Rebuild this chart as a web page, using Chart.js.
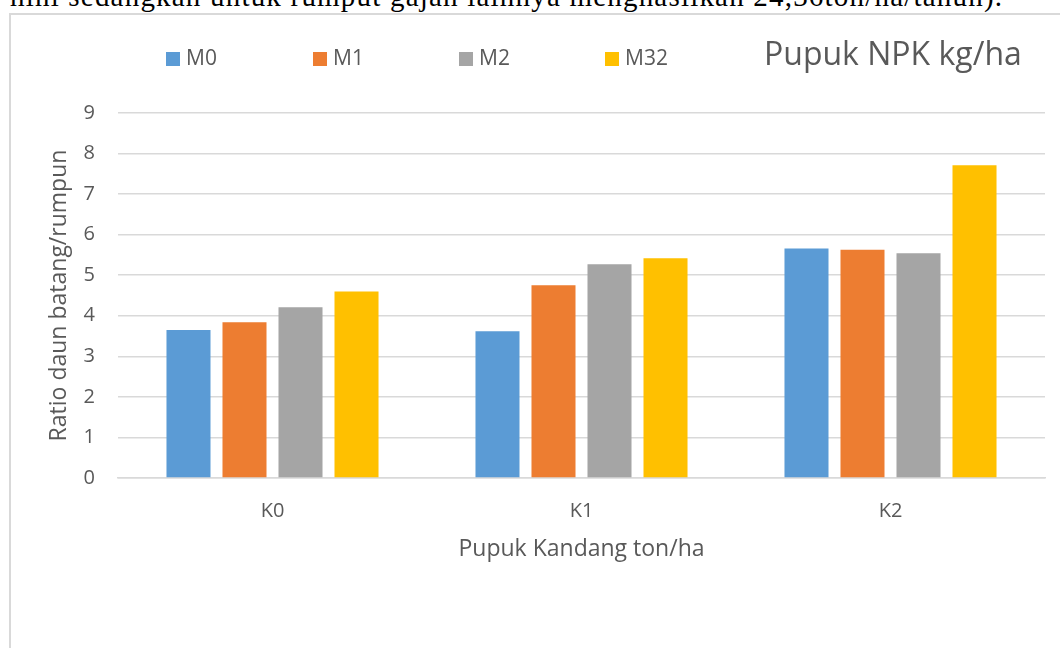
<!DOCTYPE html>
<html>
<head>
<meta charset="utf-8">
<script src="https://cdn.jsdelivr.net/npm/chart.js@4.4.1/dist/chart.umd.min.js"></script>
<style>
  html, body { margin: 0; padding: 0; background: #fff; overflow: hidden; }
  body { width: 1060px; height: 648px; position: relative; }
  #para {
    position: absolute; left: 10px; top: -20px; white-space: nowrap;
    font-family: 'Liberation Serif', serif; font-size: 29px; line-height: 33px;
    letter-spacing: 1.2px; color: #000;
  }
  #box {
    position: absolute; left: 9px; top: 13px; width: 1100px; height: 700px;
    border-left: 2px solid #d9d9d9; border-top: 2px solid #d9d9d9;
  }
  #wrap { position: absolute; left: 0; top: 0; width: 1060px; height: 648px; }
</style>
</head>
<body>
<div id="para">hini sedangkan untuk rumput gajah lainnya menghasilkan 24,36ton/ha/tahun).</div>
<div id="box"></div>
<div id="wrap"><canvas id="myChart"></canvas></div>
<script>
const categories = ['K0', 'K1', 'K2'];
const seriesNames = ['M0', 'M1', 'M2', 'M32'];
const m0 = [3.65, 3.62, 5.66];
const m1 = [3.84, 4.75, 5.63];
const m2 = [4.21, 5.27, 5.54];
const m32 = [4.60, 5.42, 7.71];
const colors = ['#5B9BD5', '#ED7D31', '#A5A5A5', '#FFC000'];

Chart.defaults.font.family = "'Open Sans', sans-serif";
Chart.defaults.color = '#595959';

// legend row + "Pupuk NPK kg/ha" title drawn on the same line, like Excel does
const headerPlugin = {
  id: 'header',
  afterDraw(chart) {
    const ctx = chart.ctx;
    const xs = [166, 313, 459, 605];
    ctx.save();
    ctx.font = "21px 'Open Sans', sans-serif";
    ctx.textBaseline = 'middle';
    ctx.textAlign = 'left';
    chart.data.datasets.forEach((ds, i) => {
      ctx.fillStyle = ds.backgroundColor;
      ctx.fillRect(xs[i], 52, 14, 14);
      ctx.fillStyle = '#595959';
      ctx.fillText(ds.label, xs[i] + 20, 59);
    });
    ctx.font = "32px 'Open Sans', sans-serif";
    ctx.fillText('Pupuk NPK kg/ha', 764, 56);
    ctx.restore();
  }
};

const ctx = document.getElementById('myChart');

const config = {
  type: 'bar',
  data: {
    labels: categories,
    datasets: [m0, m1, m2, m32].map((d, i) => ({
      label: seriesNames[i],
      data: d,
      backgroundColor: colors[i],
      categoryPercentage: 0.725,
      barPercentage: 0.786,
    })),
  },
  options: {
    responsive: false,
    animation: false,
    layout: {
      padding: { left: 42, right: 15, top: 113, bottom: 81 },
    },
    plugins: {
      legend: { display: false },
      title: { display: false },
      tooltip: { enabled: false },
    },
    scales: {
      x: {
        grid: { display: false, drawTicks: false },
        border: { color: '#d9d9d9', width: 1.5 },
        ticks: { padding: 21, font: { size: 20 } },
        title: {
          display: true,
          text: 'Pupuk Kandang ton/ha',
          font: { size: 23 },
          padding: { top: 4, bottom: 4 },
        },
        afterFit(scale) { scale.height = 89; },
      },
      y: {
        min: 0,
        max: 9,
        ticks: { stepSize: 1, padding: 23, font: { size: 20 } },
        grid: { color: '#d9d9d9', lineWidth: 1.5, drawTicks: false },
        border: { display: false },
        title: {
          display: true,
          text: 'Ratio daun batang/rumpun',
          font: { size: 23 },
          padding: { top: 4, bottom: 4 },
        },
        afterFit(scale) { scale.width = 76; },
      },
    },
  },
  plugins: [headerPlugin],
};

ctx.width = 1060;
ctx.height = 648;
new Chart(ctx, config);
</script>
</body>
</html>
